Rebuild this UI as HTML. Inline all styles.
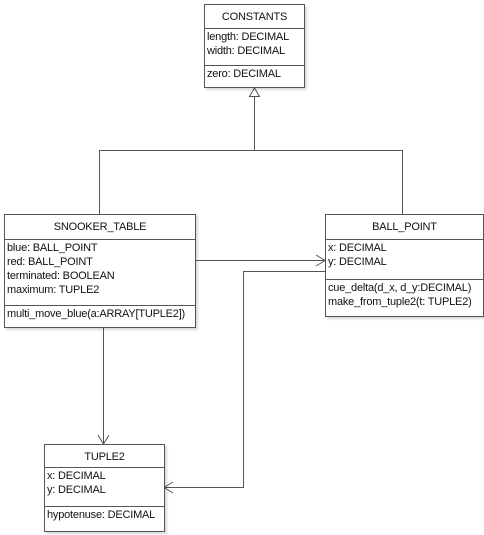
<!DOCTYPE html>
<html><head><meta charset="utf-8"><style>
body{margin:0;width:484px;height:535px;background:#fff;position:relative;overflow:hidden;font-family:"Liberation Sans",sans-serif;font-size:11px;letter-spacing:-0.2px;color:#111;white-space:nowrap}
.b{position:absolute;border:1px solid #555;background:#fff;box-shadow:2px 2px 2px rgba(0,0,0,0.15);box-sizing:border-box;overflow:hidden}
.h{text-align:center;border-bottom:1px solid #555;box-sizing:border-box;line-height:24px}
.s{border-bottom:1px solid #555;box-sizing:border-box;padding:1px 2px;line-height:14px}
.s.l{border-bottom:none}
svg{position:absolute;left:0;top:0}
</style></head><body>
<svg width="484" height="535">
<g stroke="#555" fill="none" stroke-width="1">
<polyline points="99.5,214 99.5,150.5 402.5,150.5 402.5,214"/>
<line x1="254.5" y1="96" x2="254.5" y2="150"/>
<polygon points="254.5,88 249.5,96.5 259.5,96.5" fill="#fff"/>
<line x1="195" y1="260.5" x2="325" y2="260.5"/>
<polyline points="316,255 325,260.5 316,266"/>
<polyline points="325,271.5 243.5,271.5 243.5,487.5 164,487.5"/>
<polyline points="173,482 164,487.5 173,493"/>
<line x1="103.5" y1="327" x2="103.5" y2="444"/>
<polyline points="98,435 103.5,444 109,435"/>
</g></svg>
<div class="b" style="left:204px;top:4px;width:101px;height:84px">
<div class="h" style="height:24px">CONSTANTS</div>
<div class="s" style="height:37px">length: DECIMAL<br>width: DECIMAL</div>
<div class="s l">zero: DECIMAL</div></div>
<div class="b" style="left:4px;top:214px;width:192px;height:114px">
<div class="h" style="height:25px">SNOOKER_TABLE</div>
<div class="s" style="height:66px">blue: BALL_POINT<br>red: BALL_POINT<br>terminated: BOOLEAN<br>maximum: TUPLE2</div>
<div class="s l">multi_move_blue(a:ARRAY[TUPLE2])</div></div>
<div class="b" style="left:325px;top:214px;width:159px;height:103px">
<div class="h" style="height:25px">BALL_POINT</div>
<div class="s" style="height:40px">x: DECIMAL<br>y: DECIMAL</div>
<div class="s l">cue_delta(d_x, d_y:DECIMAL)<br>make_from_tuple2(t: TUPLE2)</div></div>
<div class="b" style="left:44px;top:444px;width:121px;height:88px">
<div class="h" style="height:23px">TUPLE2</div>
<div class="s" style="height:39px">x: DECIMAL<br>y: DECIMAL</div>
<div class="s l">hypotenuse: DECIMAL</div></div>
</body></html>
